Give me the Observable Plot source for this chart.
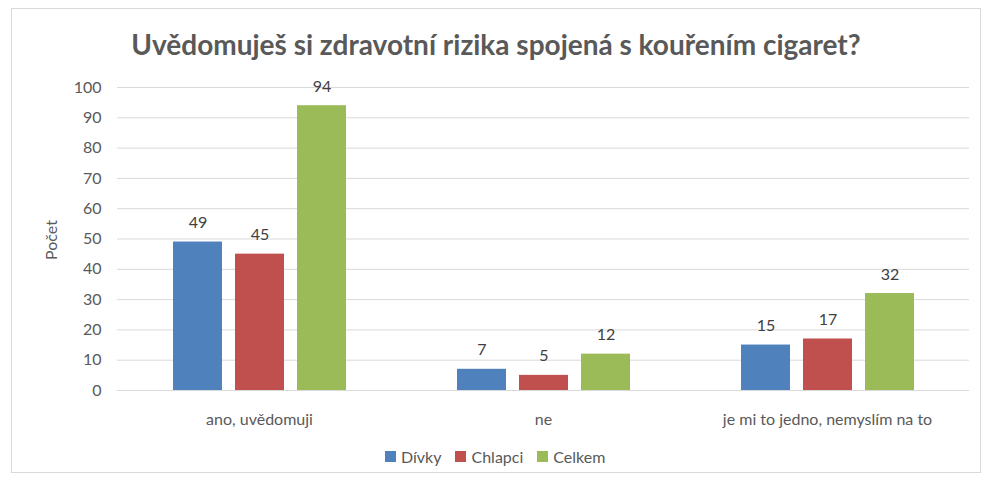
<!DOCTYPE html>
<html><head><meta charset="utf-8">
<script src="https://cdn.jsdelivr.net/npm/d3@7"></script>
<script src="https://cdn.jsdelivr.net/npm/@observablehq/plot@0.6"></script>
<style>
body{margin:0;background:#fff;font-family:Lato,"Open Sans",sans-serif;}
#wrap{position:relative;width:987px;height:482px;overflow:hidden;}
#frame{position:absolute;left:11px;top:8px;width:968px;height:463px;border:1px solid #d9d9d9;}
#title{position:absolute;left:11px;width:970px;top:27px;text-align:center;font-size:28px;font-weight:700;color:#595959;}
#chart{position:absolute;left:0;top:0;}
#ylabel{position:absolute;left:50px;top:240px;transform:translate(-50%,-50%) rotate(-90deg);font-size:16px;color:#595959;white-space:nowrap;}
#legend{position:absolute;left:385px;top:447px;display:flex;gap:0;font-size:16px;color:#595959;}
#legend .it{display:flex;align-items:center;margin-right:14px;}
#legend .sw{width:11px;height:11px;margin-right:5px;}
</style></head>
<body>
<div id="wrap">
<div id="frame"></div>
<div id="chart"></div>
<div id="title"></div>
<div id="ylabel"></div>
<div id="legend"></div>
</div>
<script>
const titleText = "Uvědomuješ si zdravotní rizika spojená s kouřením cigaret?";
const categories = ["ano, uvědomuji", "ne", "je mi to jedno, nemyslím na to"];
const series = ["Dívky", "Chlapci", "Celkem"];
const divky = [49, 7, 15];
const chlapci = [45, 5, 17];
const celkem = [94, 12, 32];
const colors = ["#4f81bd", "#c0504d", "#9bbb59"];
const yTicks = [0,10,20,30,40,50,60,70,80,90,100];
const yLabel = "Počet";

const values = [divky, chlapci, celkem];
const data = [];
categories.forEach((c, i) => series.forEach((s, j) => data.push({cat: c, ser: s, val: values[j][i]})));

document.getElementById("title").textContent = titleText;
document.getElementById("ylabel").textContent = yLabel;

const chart = Plot.plot({
  width: 987,
  height: 440,
  marginTop: 87,
  marginBottom: 50,
  marginLeft: 116,
  marginRight: 17,
  style: {fontFamily: "Lato, 'Open Sans', sans-serif", fontSize: "16px", color: "#595959", background: "transparent"},
  fx: {domain: categories, padding: 0, label: null, axis: null},
  x: {domain: series, paddingInner: 0.21, paddingOuter: 0.88, axis: null},
  y: {domain: [0, 100], ticks: yTicks, label: null, axis: null},
  color: {domain: series, range: colors},
  marks: [
    Plot.ruleY(yTicks, {stroke: "#d9d9d9", strokeWidth: 1}),
    Plot.barY(data, {fx: "cat", x: "ser", y: "val", fill: "ser"}),
    Plot.text(data, {fx: "cat", x: "ser", y: "val", text: d => String(d.val), dy: -19, fill: "#404040", fontSize: 16}),
    Plot.axisY({ticks: yTicks, tickSize: 0, tickPadding: 16, label: null, fontSize: 16, fill: "#595959"}),
    Plot.axisFx({anchor: "bottom", tickSize: 0, tickPadding: 23, label: null, fontSize: 16, fill: "#595959"})
  ]
});
document.getElementById("chart").appendChild(chart);

const leg = document.getElementById("legend");
series.forEach((s, i) => {
  const it = document.createElement("div"); it.className = "it";
  const sw = document.createElement("div"); sw.className = "sw"; sw.style.background = colors[i];
  const t = document.createElement("span"); t.textContent = s;
  it.appendChild(sw); it.appendChild(t); leg.appendChild(it);
});
</script>
</body></html>
